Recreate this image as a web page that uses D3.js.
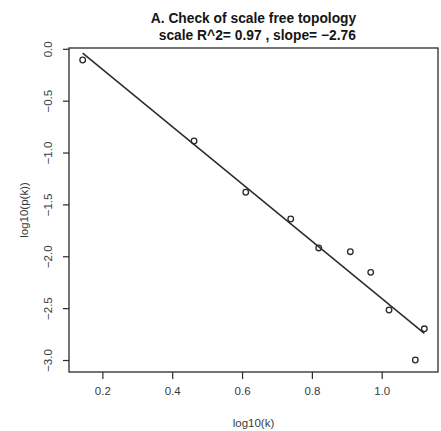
<!DOCTYPE html>
<html>
<head>
<meta charset="utf-8">
<script src="https://cdn.jsdelivr.net/npm/d3@7"></script>
<style>
  html, body { margin: 0; padding: 0; background: #fff; }
  svg { display: block; font-family: "Liberation Sans", Arial, Helvetica, sans-serif; }
  text.pre { white-space: pre; }
</style>
</head>
<body>
<svg id="chart" width="441" height="431"></svg>
<script>
// ---- data ----
const logK  = [0.1436, 0.4626, 0.6106, 0.7394, 0.8196, 0.9101, 0.9685, 1.0209, 1.0962, 1.1220];
const logPk = [-0.108, -0.889, -1.383, -1.641, -1.920, -1.956, -2.155, -2.518, -3.000, -2.699];
const fitIntercept = 0.354;
const fitSlope = -2.76;
const xTicks = [0.2, 0.4, 0.6, 0.8, 1.0];
const yTicks = [0.0, -0.5, -1.0, -1.5, -2.0, -2.5, -3.0];
const titleLine1 = "A. Check of scale free topology";
const titleLine2 = "  scale R^2= 0.97 , slope= \u22122.76";
const xLabel = "log10(k)";
const yLabel = "log10(p(k))";

// ---- layout ----
const W = 441, H = 431;
const margin = { left: 69, top: 48, right: 3, bottom: 59 };
const pw = W - margin.left - margin.right;
const ph = H - margin.top - margin.bottom;

// R-style 4% range extension
function ext(arr) {
  const [a, b] = d3.extent(arr);
  const d = (b - a) * 0.04;
  return [a - d, b + d];
}

const x = d3.scaleLinear().domain(ext(logK)).range([margin.left, margin.left + pw]);
const y = d3.scaleLinear().domain(ext(logPk)).range([margin.top + ph, margin.top]);

const svg = d3.select("#chart");
const ink = "#2a2a2a";
const textInk = "#3a3a3a";

// x axis
const xAxis = d3.axisBottom(x).tickValues(xTicks).tickSize(7).tickPadding(8)
  .tickFormat(d3.format(".1f"));
const gx = svg.append("g").attr("transform", `translate(0,${margin.top + ph})`).call(xAxis);
gx.select(".domain").remove();
gx.selectAll(".tick line").attr("stroke", ink).attr("stroke-width", 1.2);
gx.selectAll(".tick text").attr("fill", textInk).attr("font-size", 11.5)
  .attr("font-family", "Liberation Sans, Arial, sans-serif");

// y axis (labels rotated like R's las=0)
const yAxis = d3.axisLeft(y).tickValues(yTicks).tickSize(6).tickFormat(d3.format(".1f"));
const gy = svg.append("g").attr("transform", `translate(${margin.left},0)`).call(yAxis);
gy.select(".domain").remove();
gy.selectAll(".tick line").attr("stroke", ink).attr("stroke-width", 1.2);
gy.selectAll(".tick text")
  .attr("fill", textInk).attr("font-size", 11.5)
  .attr("font-family", "Liberation Sans, Arial, sans-serif")
  .attr("x", null).attr("dy", null)
  .attr("text-anchor", "middle")
  .attr("transform", `translate(-17,0) rotate(-90)`)
  .attr("y", 0);

// plot box
svg.append("rect")
  .attr("x", margin.left).attr("y", margin.top)
  .attr("width", pw).attr("height", ph)
  .attr("fill", "none").attr("stroke", ink).attr("stroke-width", 1.3);

// fitted line across data range
const [xmin, xmax] = d3.extent(logK);
const fitPts = [xmin, xmax].map(v => [v, fitIntercept + fitSlope * v]);
svg.append("path")
  .attr("d", d3.line().x(d => x(d[0])).y(d => y(d[1]))(fitPts))
  .attr("stroke", ink).attr("stroke-width", 1.5).attr("fill", "none");

// points
svg.append("g").selectAll("circle")
  .data(logK.map((v, i) => [v, logPk[i]]))
  .join("circle")
  .attr("cx", d => x(d[0])).attr("cy", d => y(d[1]))
  .attr("r", 2.8)
  .attr("fill", "none").attr("stroke", ink).attr("stroke-width", 1.3);

// titles
const cx = margin.left + pw / 2;
svg.append("text").attr("x", cx).attr("y", 22.5)
  .attr("text-anchor", "middle").attr("font-weight", "bold").attr("font-size", 13.8)
  .attr("fill", "#151515").text(titleLine1);
svg.append("text").attr("class", "pre").attr("x", cx).attr("y", 39.5)
  .attr("text-anchor", "middle").attr("font-weight", "bold").attr("font-size", 13.8)
  .attr("fill", "#151515").text(titleLine2);

// axis titles
svg.append("text").attr("x", cx).attr("y", 426.5)
  .attr("text-anchor", "middle").attr("font-size", 11.5).attr("fill", textInk).text(xLabel);
svg.append("text")
  .attr("transform", `translate(28,${margin.top + ph / 2}) rotate(-90)`)
  .attr("text-anchor", "middle").attr("font-size", 11.5).attr("fill", textInk).text(yLabel);
</script>
</body>
</html>
